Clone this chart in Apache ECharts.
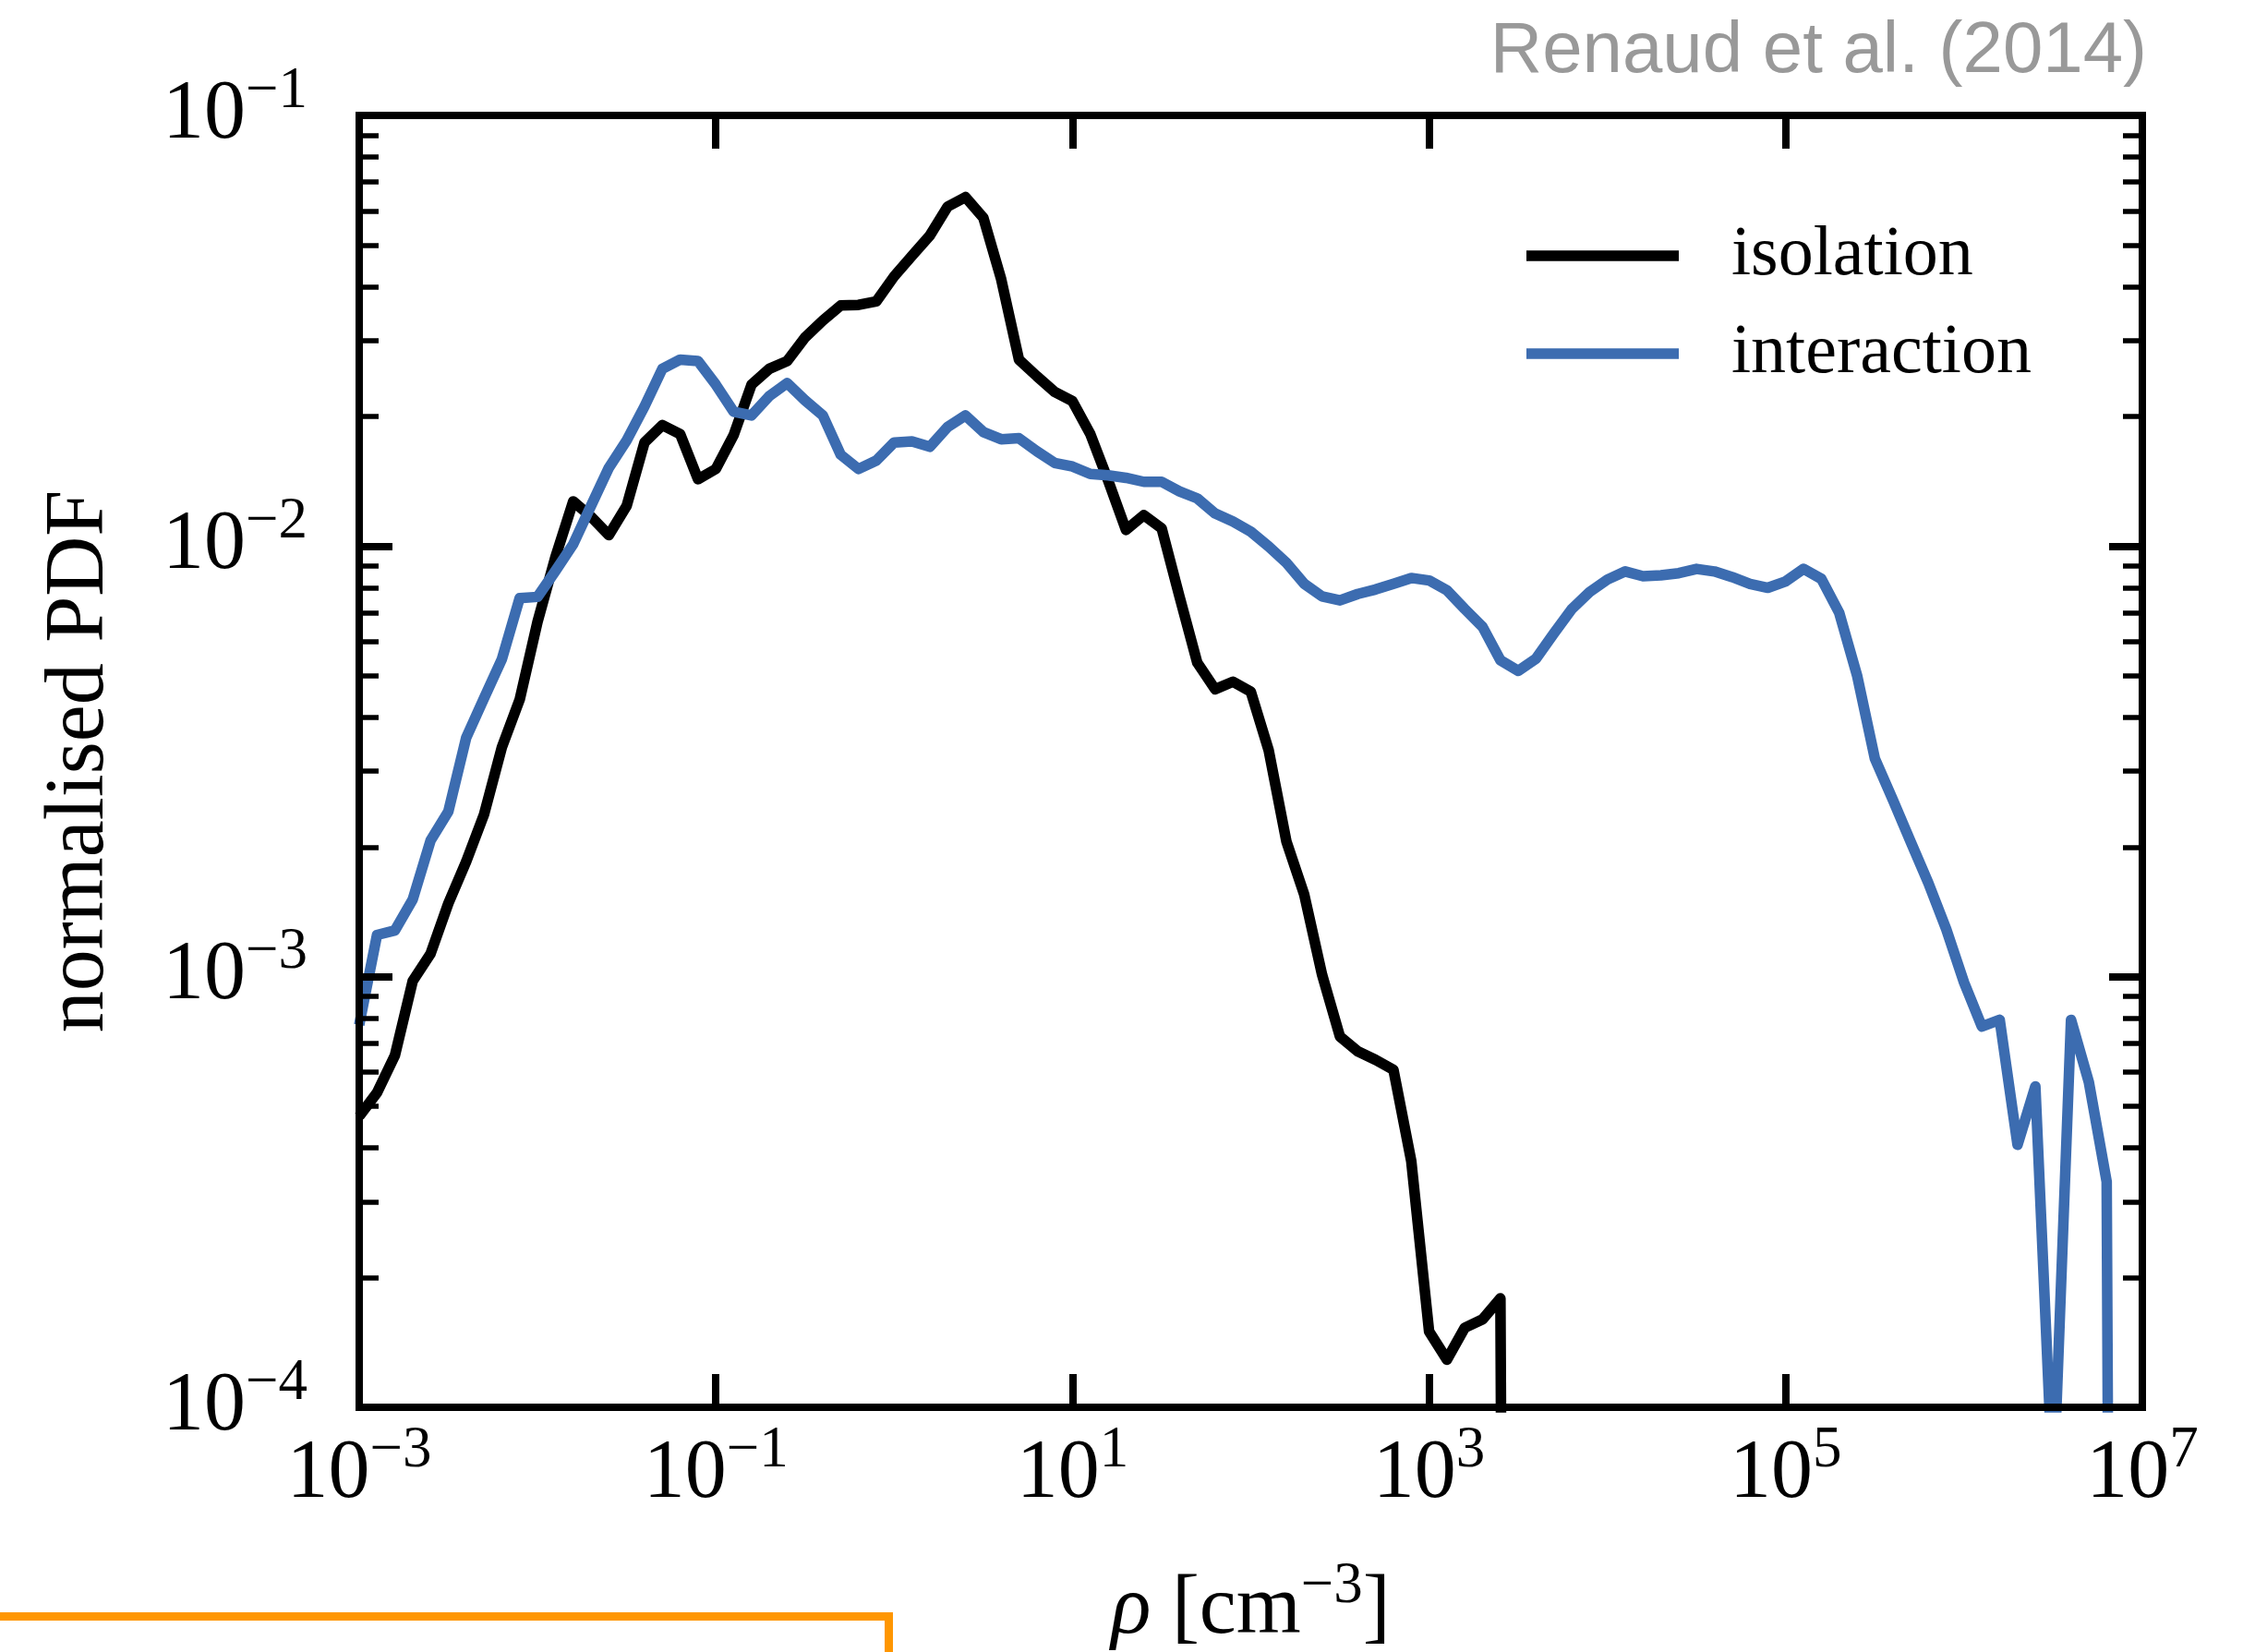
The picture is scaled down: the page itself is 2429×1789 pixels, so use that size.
<!DOCTYPE html>
<html>
<head>
<meta charset="utf-8">
<title>Density PDF</title>
<script src="https://cdn.jsdelivr.net/npm/echarts@6/dist/echarts.min.js"></script>
<style>
  html, body { margin: 0; padding: 0; background: #ffffff; }
  #chart { width: 2429px; height: 1789px; }
</style>
</head>
<body>
<div id="chart"></div>
<script>
// Bin centres, as log10 of the gas density (cm^-3)
const logRho = [
  -3.0, -2.9, -2.8, -2.7, -2.6, -2.5, -2.4, -2.3, -2.2, -2.1,
  -2.0, -1.9, -1.8, -1.7, -1.6, -1.5, -1.4, -1.3, -1.2, -1.1,
  -1.0, -0.9, -0.8, -0.7, -0.6, -0.5, -0.4, -0.3, -0.2, -0.1,
   0.0,  0.1,  0.2,  0.3,  0.4,  0.5,  0.6,  0.7,  0.8,  0.9,
   1.0,  1.1,  1.2,  1.3,  1.4,  1.5,  1.6,  1.7,  1.8,  1.9,
   2.0,  2.1,  2.2,  2.3,  2.4,  2.5,  2.6,  2.7,  2.8,  2.9,
   3.0,  3.1,  3.2,  3.3,  3.4,  3.5,  3.6,  3.7,  3.8,  3.9,
   4.0,  4.1,  4.2,  4.3,  4.4,  4.5,  4.6,  4.7,  4.8,  4.9,
   5.0,  5.1,  5.2,  5.3,  5.4,  5.5,  5.6,  5.7,  5.8,  5.9,
   6.0,  6.1,  6.2,  6.3,  6.4,  6.5,  6.6,  6.7,  6.8,  6.9
];

// Normalised PDF of the isolated galaxy (0 = empty bin)
const pdfIsolation = [
  4.74e-4, 5.38e-4, 6.56e-4, 9.77e-4, 1.13e-3, 1.48e-3, 1.85e-3, 2.38e-3, 3.41e-3, 4.40e-3,
  6.67e-3, 9.42e-3, 1.27e-2, 1.17e-2, 1.06e-2, 1.24e-2, 1.74e-2, 1.91e-2, 1.82e-2, 1.43e-2,
  1.51e-2, 1.81e-2, 2.37e-2, 2.58e-2, 2.69e-2, 3.05e-2, 3.34e-2, 3.62e-2, 3.63e-2, 3.70e-2,
  4.23e-2, 4.72e-2, 5.26e-2, 6.14e-2, 6.46e-2, 5.79e-2, 4.17e-2, 2.71e-2, 2.48e-2, 2.28e-2,
  2.17e-2, 1.82e-2, 1.42e-2, 1.09e-2, 1.18e-2, 1.10e-2, 7.64e-3, 5.36e-3, 4.65e-3, 4.84e-3,
  4.59e-3, 3.36e-3, 2.06e-3, 1.55e-3, 1.01e-3, 7.26e-4, 6.71e-4, 6.41e-4, 6.08e-4, 3.73e-4,
  1.50e-4, 1.29e-4, 1.53e-4, 1.60e-4, 1.79e-4, 0
];

// Normalised PDF of the interacting pair (0 = empty bin)
const pdfInteraction = [
  7.73e-4, 1.25e-3, 1.28e-3, 1.51e-3, 2.07e-3, 2.42e-3, 3.59e-3, 4.43e-3, 5.46e-3, 7.57e-3,
  7.62e-3, 8.75e-3, 1.01e-2, 1.24e-2, 1.52e-2, 1.76e-2, 2.11e-2, 2.58e-2, 2.71e-2, 2.69e-2,
  2.37e-2, 2.05e-2, 2.01e-2, 2.23e-2, 2.39e-2, 2.18e-2, 2.01e-2, 1.63e-2, 1.51e-2, 1.58e-2,
  1.74e-2, 1.75e-2, 1.70e-2, 1.89e-2, 2.01e-2, 1.84e-2, 1.77e-2, 1.78e-2, 1.66e-2, 1.56e-2,
  1.53e-2, 1.47e-2, 1.46e-2, 1.44e-2, 1.41e-2, 1.41e-2, 1.34e-2, 1.29e-2, 1.19e-2, 1.14e-2,
  1.08e-2, 9.98e-3, 9.14e-3, 8.17e-3, 7.64e-3, 7.48e-3, 7.74e-3, 7.93e-3, 8.17e-3, 8.43e-3,
  8.32e-3, 7.89e-3, 7.14e-3, 6.49e-3, 5.43e-3, 5.13e-3, 5.48e-3, 6.27e-3, 7.14e-3, 7.82e-3,
  8.36e-3, 8.73e-3, 8.51e-3, 8.55e-3, 8.65e-3, 8.85e-3, 8.73e-3, 8.47e-3, 8.17e-3, 8.00e-3,
  8.28e-3, 8.85e-3, 8.39e-3, 7.00e-3, 5.01e-3, 3.21e-3, 2.58e-3, 2.06e-3, 1.65e-3, 1.29e-3,
  9.70e-4, 7.66e-4, 7.94e-4, 4.07e-4, 5.56e-4, 6.3e-5, 7.94e-4, 5.69e-4, 3.34e-4, 0
];

const seriesNames = ['isolation', 'interaction'];
const xMajorTicks = [1e-3, 1e-1, 1e1, 1e3, 1e5, 1e7];
const xRange = [1e-3, 1e7];
const yRange = [1e-4, 1e-1];
const creditText = 'Renaud et al. (2014)';

// Empty bins are clipped to a tiny floor, so the curve drops off the log axis
const EMPTY_FLOOR = 1e-12;
function toPairs(values) {
  return values.map((v, i) => [Math.pow(10, logRho[i]), v > 0 ? v : EMPTY_FLOOR]);
}

const SERIF = 'Liberation Serif';
const LINE_W = 11.5;
// main text sits on the line bottom, the exponent is pinned to the line top
const baseStyle = { fontFamily: SERIF, fontSize: 90, lineHeight: 90, verticalAlign: 'bottom', color: '#000' };
const supStyle = { fontFamily: SERIF, fontSize: 63, height: 38, lineHeight: 38, verticalAlign: 'top', color: '#000' };
const powRich = { b: baseStyle, s: supStyle };
function powLabel(value) {
  const e = Math.round(Math.log10(value));
  return '{b|10}{s|' + String(e).replace('-', '\u2212') + '}';
}

const spine = { show: true, lineStyle: { color: '#000', width: 8, cap: 'square' } };
const majorTick = { show: true, inside: true, length: 36, lineStyle: { color: '#000', width: 8 } };
const minorTick = { show: true, splitNumber: 9, length: 21, lineStyle: { color: '#000', width: 5.5 } };

function xAxisDef(pos, withLabels) {
  return {
    type: 'log', logBase: 10, min: xRange[0], max: xRange[1], position: pos, z: 10,
    axisLine: spine,
    axisTick: Object.assign({ customValues: xMajorTicks }, majorTick),
    minorTick: { show: false },
    splitLine: { show: false },
    axisLabel: {
      show: withLabels, customValues: xMajorTicks, margin: 28,
      formatter: powLabel, rich: powRich
    },
    name: withLabels ? '{i|\u03c1}{r| [cm}{s|\u22123}{r|]}' : '',
    nameLocation: 'middle', nameGap: 175,
    nameTextStyle: {
      rich: {
        i: Object.assign({}, baseStyle, { fontStyle: 'italic' }),
        r: baseStyle,
        s: supStyle
      }
    }
  };
}

function yAxisDef(pos, withLabels) {
  return {
    type: 'log', logBase: 10, min: yRange[0], max: yRange[1], splitNumber: 3, position: pos, z: 10,
    axisLine: spine,
    axisTick: majorTick,
    minorTick: minorTick,
    splitLine: { show: false },
    minorSplitLine: { show: false },
    axisLabel: { show: withLabels, margin: 56, formatter: powLabel, rich: powRich },
    name: withLabels ? 'normalised PDF' : '',
    nameLocation: 'middle', nameGap: 257,
    nameTextStyle: { fontFamily: SERIF, fontSize: 90, lineHeight: 90, color: '#000' }
  };
}

const chart = echarts.init(document.getElementById('chart'), null, { renderer: 'canvas' });
chart.setOption({
  animation: false,
  backgroundColor: '#ffffff',
  grid: { left: 389, top: 125, width: 1931, height: 1399, containLabel: false, outerBoundsMode: 'none' },
  xAxis: [xAxisDef('bottom', true), xAxisDef('top', false)],
  yAxis: [yAxisDef('left', true), yAxisDef('right', false)],
  legend: {
    orient: 'vertical', left: 1653, top: 239, padding: 0,
    itemWidth: 165, itemHeight: LINE_W, itemGap: 30,
    selectedMode: false,
    data: seriesNames.map(n => ({ name: n, icon: 'rect' })),
    textStyle: { fontFamily: SERIF, fontSize: 76, lineHeight: 76, color: '#000', padding: [0, 0, 0, 52] }
  },
  series: [
    {
      type: 'line', name: seriesNames[0], data: toPairs(pdfIsolation),
      symbol: 'none', color: '#000000', z: 2,
      lineStyle: { width: LINE_W, color: '#000000', join: 'round' }
    },
    {
      type: 'line', name: seriesNames[1], data: toPairs(pdfInteraction),
      symbol: 'none', color: '#3c6cb0', z: 3,
      lineStyle: { width: LINE_W, color: '#3c6cb0', join: 'round' }
    }
  ],
  graphic: [
    {
      type: 'text', x: 2325, y: 56,
      style: { text: creditText, font: '78px "Liberation Sans"', fill: '#999999', align: 'right', verticalAlign: 'middle' }
    },
    {
      type: 'polyline',
      shape: { points: [[-10, 1750.5], [962.5, 1750.5], [962.5, 1800]] },
      style: { stroke: '#ff9600', lineWidth: 9, fill: null, lineJoin: 'miter' }
    }
  ]
});
</script>
</body>
</html>
